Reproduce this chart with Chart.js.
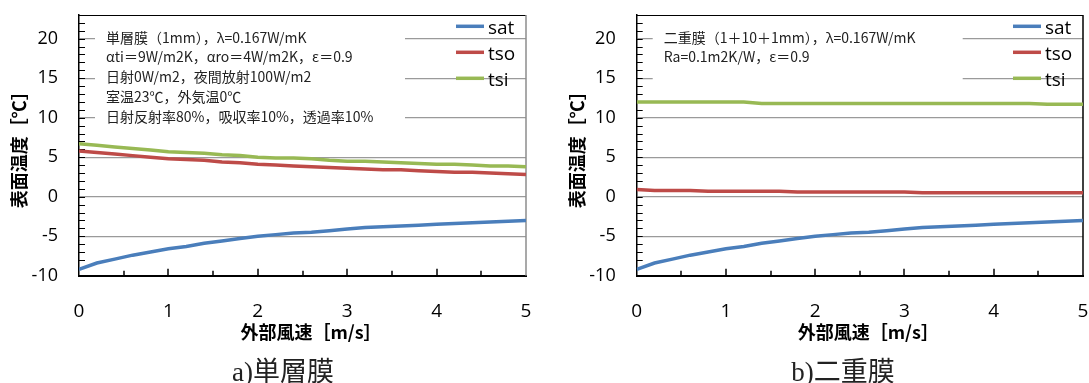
<!DOCTYPE html>
<html lang="ja">
<head>
<meta charset="utf-8">
<script src="https://cdn.jsdelivr.net/npm/chart.js@4.4.1/dist/chart.umd.min.js"></script>
<style>
    body { margin: 0; background: #fff; width: 1089px; height: 383px; overflow: hidden; position: relative; }
    .panel { position: absolute; top: 0; height: 383px; }
    .caption {
        position: absolute; top: 354px; line-height: 36px;
        font-family: "Liberation Serif", "Noto Sans CJK JP", serif; font-size: 27px;
        color: #222; white-space: nowrap; transform: translateX(-50%);
    }
</style>
</head>
<body>
<div class="panel" style="left:0;width:545px"><canvas id="chartA" width="545" height="383"></canvas></div>
<div class="panel" style="left:545px;width:544px"><canvas id="chartB" width="544" height="383"></canvas></div>
<div class="caption" style="left:283px">a)単層膜</div>
<div class="caption" style="left:843px">b)二重膜</div>
<script>
// 外部風速 [m/s]
const windSpeed = [0, 0.2, 0.4, 0.6, 0.8, 1, 1.2, 1.4, 1.6, 1.8, 2, 2.2, 2.4, 2.6, 2.8, 3, 3.2, 3.4, 3.6, 3.8, 4, 4.2, 4.4, 4.6, 4.8, 5];

// a) 単層膜
const satA = [-9.2, -8.4, -7.9, -7.4, -7.0, -6.6, -6.3, -5.9, -5.6, -5.3, -5.0, -4.8, -4.6, -4.5, -4.3, -4.1, -3.9, -3.8, -3.7, -3.6, -3.5, -3.4, -3.3, -3.2, -3.1, -3.0];
const tsoA = [5.8, 5.6, 5.4, 5.2, 5.0, 4.8, 4.7, 4.6, 4.4, 4.3, 4.1, 4.0, 3.9, 3.8, 3.7, 3.6, 3.5, 3.4, 3.4, 3.3, 3.2, 3.1, 3.1, 3.0, 2.9, 2.8];
const tsiA = [6.7, 6.5, 6.3, 6.1, 5.9, 5.7, 5.6, 5.5, 5.3, 5.2, 5.0, 4.9, 4.9, 4.8, 4.6, 4.5, 4.5, 4.4, 4.3, 4.2, 4.1, 4.1, 4.0, 3.9, 3.9, 3.8];

// b) 二重膜
const satB = [-9.2, -8.4, -7.9, -7.4, -7.0, -6.6, -6.3, -5.9, -5.6, -5.3, -5.0, -4.8, -4.6, -4.5, -4.3, -4.1, -3.9, -3.8, -3.7, -3.6, -3.5, -3.4, -3.3, -3.2, -3.1, -3.0];
const tsoB = [0.9, 0.8, 0.8, 0.8, 0.7, 0.7, 0.7, 0.7, 0.7, 0.6, 0.6, 0.6, 0.6, 0.6, 0.6, 0.6, 0.5, 0.5, 0.5, 0.5, 0.5, 0.5, 0.5, 0.5, 0.5, 0.5];
const tsiB = [12.0, 12.0, 12.0, 12.0, 12.0, 12.0, 12.0, 11.8, 11.8, 11.8, 11.8, 11.8, 11.8, 11.8, 11.8, 11.8, 11.8, 11.8, 11.8, 11.8, 11.8, 11.8, 11.8, 11.7, 11.7, 11.7];

const seriesNames = ['sat', 'tso', 'tsi'];
const xTicks = [0, 1, 2, 3, 4, 5];
const yTicks = [-10, -5, 0, 5, 10, 15, 20];

const notesA = [
    '単層膜（1mm），λ=0.167W/mK',
    'αti＝9W/m2K，αro＝4W/m2K，ε＝0.9',
    '日射0W/m2，夜間放射100W/m2',
    '室温23℃，外気温0℃',
    '日射反射率80%，吸収率10%，透過率10%'
];
const notesB = [
    '二重膜（1＋10＋1mm），λ=0.167W/mK',
    'Ra=0.1m2K/W，ε＝0.9'
];

const COLORS = ['#4a7ebb', '#be4b48', '#98b954'];
const Y_MIN = -10;
const Y_MAX = 23;
const LATIN = '"Open Sans", "Liberation Sans", sans-serif';
const JP = '"Noto Sans CJK JP", sans-serif';

function strokeLine(ctx, x1, y1, x2, y2) {
    ctx.beginPath();
    ctx.moveTo(x1, y1);
    ctx.lineTo(x2, y2);
    ctx.stroke();
}

// 枠・目盛・注記・凡例・軸タイトル
const framePlugin = {
    id: 'frame',
    beforeDatasetsDraw(chart, args, o) {
        const { ctx, chartArea: a, scales: { x, y } } = chart;
        ctx.save();

        // 注記の白い箱
        ctx.fillStyle = '#fff';
        ctx.fillRect(a.left + 16, 22, 310, o.boxHeight);
        ctx.fillStyle = '#222';
        ctx.font = '14px ' + JP;
        ctx.textBaseline = 'middle';
        ctx.textAlign = 'left';
        o.notes.forEach((t, i) => ctx.fillText(t, a.left + 27, 37.3 + i * 19.8));

        // 内向きの目盛
        ctx.strokeStyle = '#000';
        ctx.lineWidth = 1;
        for (let v = Y_MIN; v <= Y_MAX; v++) {
            const py = Math.round(y.getPixelForValue(v)) + 0.5;
            strokeLine(ctx, a.left, py, a.left + 6, py);
        }
        ctx.lineWidth = 1.5;
        for (let v = 0.5; v < 5; v += 0.5) {
            const px = Math.round(x.getPixelForValue(v));
            const len = Number.isInteger(v) ? 7 : 5;
            strokeLine(ctx, px, a.bottom, px, a.bottom - len);
        }

        // 上と右の枠
        ctx.lineWidth = 1;
        strokeLine(ctx, a.left, a.top + 0.5, a.right, a.top + 0.5);
        ctx.strokeStyle = o.rightColor;
        ctx.lineWidth = 1.5;
        strokeLine(ctx, a.right, a.top, a.right, a.bottom);
        ctx.restore();
    },
    afterDraw(chart, args, o) {
        const { ctx, chartArea: a } = chart;
        ctx.save();

        // 凡例
        chart.data.datasets.forEach((ds, i) => {
            const ly = 26.3 + i * 26;
            ctx.strokeStyle = ds.borderColor;
            ctx.lineWidth = 3.5;
            strokeLine(ctx, a.right - 70, ly, a.right - 42, ly);
            ctx.fillStyle = '#000';
            ctx.font = '19px ' + LATIN;
            ctx.textBaseline = 'middle';
            ctx.fillText(ds.label, a.right - 38, ly + 2);
        });

        // 軸タイトル
        ctx.fillStyle = '#000';
        ctx.font = 'bold 18px ' + JP;
        ctx.textAlign = 'center';
        ctx.textBaseline = 'middle';
        ctx.fillText('外部風速［m/s］', (a.left + a.right) / 2 + 8.5, 331.7);
        ctx.translate(a.left - 59.5, (a.top + a.bottom) / 2);
        ctx.rotate(-Math.PI / 2);
        ctx.fillText('表面温度［℃］', 0, 0);
        ctx.restore();
    }
};

function makeChart(canvasId, series, notes, opt) {
    const datasets = series.map((values, i) => ({
        label: seriesNames[i],
        data: values.map((v, j) => ({ x: windSpeed[j], y: v })),
        borderColor: COLORS[i],
        borderWidth: 3.5,
        pointRadius: 0,
        tension: 0,
        fill: false
    }));

    return new Chart(document.getElementById(canvasId), {
        type: 'line',
        data: { datasets: datasets },
        options: {
            responsive: false,
            animation: false,
            devicePixelRatio: 1,
            layout: { padding: { left: 0, top: 15, right: opt.padRight, bottom: 0 } },
            plugins: {
                legend: { display: false },
                tooltip: { enabled: false },
                frame: { notes: notes, boxHeight: opt.boxHeight, rightColor: opt.rightColor }
            },
            scales: {
                x: {
                    type: 'linear',
                    min: xTicks[0],
                    max: xTicks[xTicks.length - 1],
                    afterBuildTicks: s => { s.ticks = xTicks.map(v => ({ value: v })); },
                    ticks: { padding: 24.6, maxRotation: 0, color: '#000', font: { family: LATIN, size: 19 } },
                    grid: { color: 'rgba(0,0,0,0)', drawTicks: false },
                    border: { color: '#000', width: 2 },
                    afterFit: s => {
                        s.height = 107.3;
                        s.paddingLeft = 0;
                        s.paddingRight = 0;
                    }
                },
                y: {
                    min: Y_MIN,
                    max: Y_MAX,
                    afterBuildTicks: s => { s.ticks = yTicks.map(v => ({ value: v })); },
                    ticks: { padding: 21, color: '#000', font: { family: LATIN, size: 18 } },
                    grid: {
                        drawTicks: false,
                        lineWidth: 1.3,
                        color: c => c.tick && c.tick.value === Y_MIN ? 'rgba(0,0,0,0)' : '#9a9a9a'
                    },
                    border: { color: '#000', width: 1.5 },
                    afterFit: s => {
                        s.width = opt.axisLeft;
                        s.paddingTop = 0;
                        s.paddingBottom = 0;
                    }
                }
            }
        },
        plugins: [framePlugin]
    });
}

makeChart('chartA', [satA, tsoA, tsiA], notesA, { axisLeft: 79, padRight: 19, boxHeight: 104, rightColor: '#8c8c8c' });
makeChart('chartB', [satB, tsoB, tsiB], notesB, { axisLeft: 91.7, padRight: 6, boxHeight: 66, rightColor: '#000' });
</script>
</body>
</html>
